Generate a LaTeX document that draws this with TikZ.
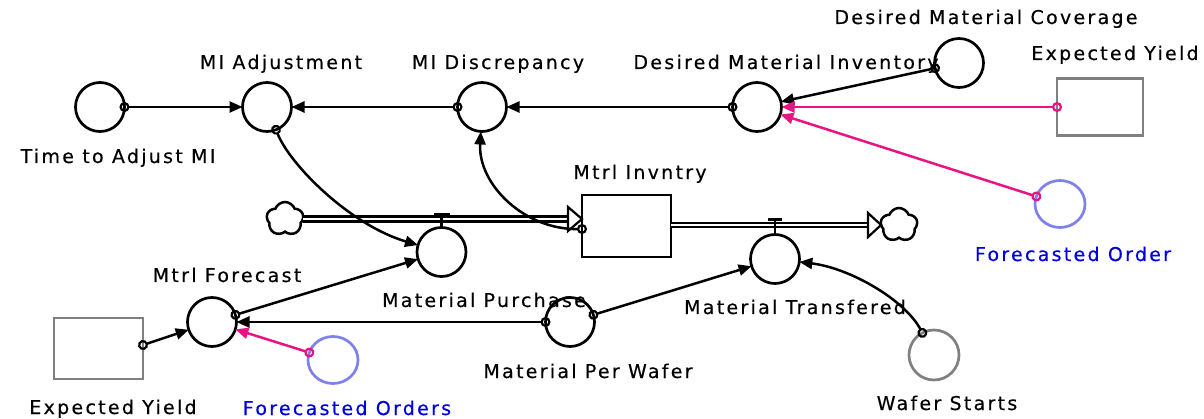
\documentclass[tikz,border=0pt]{standalone}
\usepackage{fontspec}
\setmainfont{DejaVu Sans}[LetterSpace=12, FakeBold=0.4]
\usetikzlibrary{arrows.meta,shapes.symbols,shapes.geometric}
\definecolor{pinkc}{RGB}{232,20,132}
\definecolor{bluetxt}{RGB}{0,0,225}
\definecolor{bluecirc}{RGB}{128,128,235}
\definecolor{grayc}{RGB}{128,128,128}
\tikzset{
  aux/.style={circle, draw, line width=2.7pt, minimum size=49pt, inner sep=0pt, outer sep=0pt},
  auxg/.style={aux, draw=grayc},
  auxb/.style={ellipse, draw=bluecirc, line width=2.7pt, minimum width=50pt, minimum height=47pt, inner sep=0pt, outer sep=0pt},
  stockbox/.style={rectangle, draw, line width=2.7pt, minimum width=89pt, minimum height=62pt, inner sep=0pt, outer sep=0pt},
  ghostbox/.style={rectangle, draw=grayc, line width=2.7pt, minimum width=88pt, minimum height=59pt, inner sep=0pt, outer sep=0pt},
  cloudn/.style={cloud, cloud puffs=5, cloud puff arc=140, draw, fill=white, line width=2.5pt, minimum width=37pt, minimum height=34pt, inner sep=0pt, outer sep=0pt, aspect=1.1, cloud ignores aspect},
  lbl/.style={anchor=base, inner sep=0pt},
  link/.style={line width=2.5pt, shorten <=-5pt,
    {Circle[open,length=10pt,width=10pt,line width=2.2pt]}-{Triangle[length=13pt,width=11pt]}},
  plink/.style={link, draw=pinkc},
  pipein/.style={line width=2.3pt, double=white, double distance=2.6pt},
  pipeout/.style={line width=2.3pt, double=white, double distance=1.2pt},
  tipopen/.style={draw, fill=white, line width=2.2pt, line join=miter},
  valve/.style={line width=2.4pt},
  valvebar/.style={line width=3.6pt},
}
\begin{document}
\begin{tikzpicture}[x=1pt,y=-1pt, font=\fontsize{19}{22}\selectfont]
\useasboundingbox (0,0) rectangle (1204,419);
% nodes
\node[aux] (tam) at (100,107) {};
\node[aux] (mia) at (267,107) {};
\node[aux] (mid) at (482,107) {};
\node[aux] (dmi) at (757,107) {};
\node[aux] (dmc) at (959,63) {};
\node[ghostbox, minimum width=86pt, minimum height=57pt] (eyt) at (1100,107) {};
\node[auxb] (fo) at (1060,204) {};
\node[stockbox] (mi) at (626.5,226) {};
\node[cloudn] (cl) at (285,219) {};
\node[cloudn] (cr) at (899,225) {};
\node[aux] (mp) at (441.5,252) {};
\node[aux] (mt) at (775,259) {};
\node[aux] (mf) at (212,322) {};
\node[ghostbox, minimum width=89pt, minimum height=61pt] (eyb) at (98.5,348.5) {};
\node[auxb] (fos) at (333,360) {};
\node[aux] (mpw) at (570,322) {};
\node[auxg, minimum size=50pt] (ws) at (934,355) {};
% labels
\node[lbl] (tdmc) at (986,24) {Desired Material Coverage};
\node[lbl] (teyt) at (1115,60) {Expected Yield};
\node[lbl] (tmia) at (281,69) {MI Adjustment};
\node[lbl] (tmid) at (498,69) {MI Discrepancy};
\node[lbl] (tdmi) at (786,69) {Desired Material Inventory};
\node[lbl] (ttam) at (118,163) {Time to Adjust MI};
\node[lbl] (tmi) at (640,179) {Mtrl Invntry};
\node[lbl, text=bluetxt] (tfo) at (1073,261) {Forecasted Order};
\node[lbl] (tmf) at (227,282) {Mtrl Forecast};
\node[lbl] (tmp) at (484,307) {Material Purchase};
\node[lbl] (tmt) at (795,314) {Material Transfered};
\node[lbl] (tmpw) at (588,378) {Material Per Wafer};
\node[lbl] (teyb) at (113,414) {Expected Yield};
\node[lbl, text=bluetxt] (tfos) at (347,415) {Forecasted Orders};
\node[lbl] (tws) at (947,410) {Wafer Starts};
% pipes
\coordinate (inEnd) at (cl.east -| mi.west);
\draw[pipein] (cl.east) -- ([xshift=-13pt]inEnd);
\draw[tipopen] (inEnd) -- ++(-14,-12) -- ++(0,24) -- cycle;
\coordinate (outStart) at (mi.east |- cr.west);
\draw[pipeout] (outStart) -- ([xshift=-12pt]cr.west);
\draw[tipopen] (cr.west) -- ++(-13,-12) -- ++(0,24) -- cycle;
% valves
\draw[valve] (mp.north) -- ++(0,-13) coordinate (vp);
\draw[valvebar] ([xshift=-8pt]vp) -- ([xshift=8pt]vp);
\draw[valve] (mt.north) -- ++(0,-15) coordinate (vt);
\draw[valvebar] ([xshift=-7pt]vt) -- ([xshift=7pt]vt);
% connectors
\draw[link] (tam) -- (mia);
\draw[link] (mid) -- (mia);
\draw[link] (dmi) -- (mid);
\draw[link] (dmc) -- (dmi);
\draw[plink] (eyt) -- (dmi);
\draw[plink] (fo) -- (dmi);
\draw[link] (mia) .. controls (290,165) and (350,225) .. (mp);
\draw[link] ([yshift=-3pt]mi.west) .. controls (525,230) and (478,185) .. (mid);
\draw[link] (mf) -- (mp);
\draw[link] (mpw) -- (mf);
\draw[link] (mpw) -- (mt);
\draw[link] (ws) .. controls (905,300) and (850,268) .. (mt);
\draw[link] ([yshift=3.5pt]eyb.east) -- (mf);
\draw[plink] (fos) -- (mf);
\end{tikzpicture}
\end{document}
